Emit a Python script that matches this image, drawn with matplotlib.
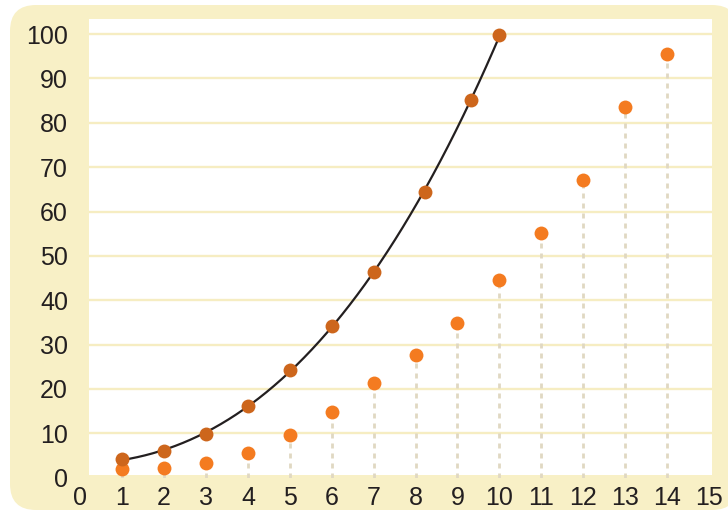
import numpy as np
import matplotlib
matplotlib.use("Agg")
import matplotlib.pyplot as plt
from matplotlib.patches import FancyBboxPatch, Rectangle

# ---- data ----
curve_x = [1, 2, 3, 4, 5, 6, 7, 8.22, 9.33, 10]
curve_y = [4.3, 5.95, 9.85, 16.2, 24.3, 34.2, 46.4, 64.5, 85.1, 99.8]
stem_x = [1, 2, 3, 4, 5, 6, 7, 8, 9, 10, 11, 12, 13, 14]
stem_y = [1.9, 2.2, 3.3, 5.5, 9.7, 14.8, 21.3, 27.6, 34.8, 44.6, 55.1, 67.1, 83.6, 95.4]
x_ticks = list(range(0, 16))
y_ticks = list(range(0, 101, 10))

BEIGE = "#F8F0C6"
GRID = "#F6EDC2"
DARK = "#CD661C"
ORANGE = "#F47B20"
DASH = "#E0D8C2"
TEXT = "#231F20"

plt.rcParams['font.family'] = ['Liberation Sans', 'DejaVu Sans']

fig = plt.figure(figsize=(7.28, 5.12), dpi=100)
fig.patch.set_facecolor("white")

# rounded beige frame (inches)
frame = FancyBboxPatch((0.10, 0.02), 7.28, 5.05,
                       boxstyle="round,pad=0,rounding_size=0.26",
                       transform=fig.dpi_scale_trans, facecolor=BEIGE,
                       edgecolor="none", zorder=-10)
fig.add_artist(frame)

ax = fig.add_axes([80.4 / 728, (512 - 477.7) / 512,
                   (711.7 - 80.4) / 728, (477.7 - 19) / 512])
ax.set_zorder(5)
ax.set_facecolor("none")
xmin_w, xmax_w = 0.205, 15.07
ymin_w, ymax_w = 0.6, 103.4
ax.set_xlim(0, xmax_w)
ax.set_ylim(0, ymax_w)
for s in ax.spines.values():
    s.set_visible(False)

ax.add_patch(Rectangle((xmin_w, ymin_w), xmax_w - xmin_w, ymax_w - ymin_w,
                       facecolor="white", edgecolor="none", zorder=0))
ax.hlines([v for v in y_ticks if v > 0], xmin_w, xmax_w, color=GRID,
          lw=1.7, zorder=1)

ax.set_xticks(x_ticks)
ax.set_yticks(y_ticks)
ax.tick_params(length=0, labelsize=18, colors=TEXT)
ax.tick_params(axis='y', pad=9)
ax.tick_params(axis='x', pad=6)

# dashed stems
ax.vlines(stem_x, 0, stem_y, colors=DASH, lw=2,
          linestyles=[(0, (1.8, 1.8))], zorder=2)
ax.scatter(stem_x, stem_y, s=100, color=ORANGE, zorder=4, linewidths=0)

# fitted curve
coef = np.polyfit(curve_x, curve_y, 3)
xx = np.linspace(min(curve_x), max(curve_x), 200)
ax.plot(xx, np.polyval(coef, xx), color=TEXT, lw=1.6, zorder=3)
ax.scatter(curve_x, curve_y, s=100, color=DARK, zorder=5, linewidths=0)

fig.savefig("out.png", dpi=100, facecolor="white")
